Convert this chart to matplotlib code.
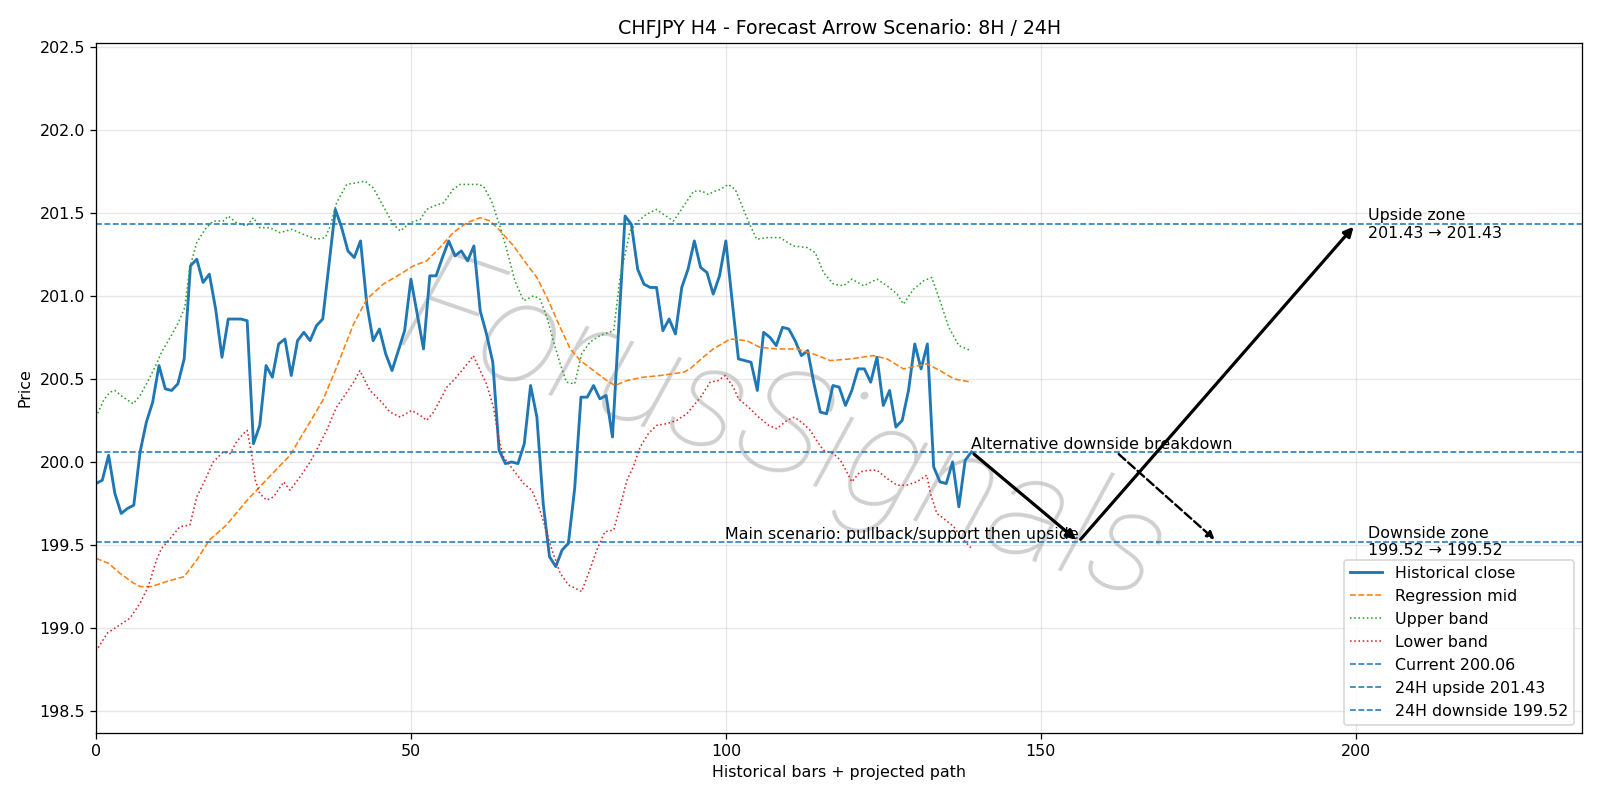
import matplotlib
matplotlib.use("Agg")
import matplotlib.pyplot as plt

# historical close, one value per H4 bar
close = [
    199.87, 199.89, 200.04, 199.81, 199.69, 199.72, 199.74, 200.06, 200.24, 200.36,
    200.58, 200.44, 200.43, 200.47, 200.62, 201.18, 201.22, 201.08, 201.13, 200.92,
    200.63, 200.86, 200.86, 200.86, 200.85, 200.11, 200.22, 200.58, 200.51, 200.71,
    200.74, 200.52, 200.73, 200.78, 200.73, 200.82, 200.86, 201.19, 201.52, 201.41,
    201.27, 201.23, 201.33, 200.95, 200.73, 200.80, 200.65, 200.55, 200.67, 200.79,
    201.10, 200.89, 200.68, 201.12, 201.12, 201.23, 201.33, 201.24, 201.27, 201.21,
    201.30, 200.91, 200.77, 200.60, 200.07, 199.99, 200.00, 199.99, 200.11, 200.46,
    200.27, 199.75, 199.43, 199.37, 199.47, 199.51, 199.84, 200.39, 200.39, 200.46,
    200.38, 200.40, 200.15, 200.82, 201.48, 201.43, 201.16, 201.07, 201.05, 201.05,
    200.79, 200.86, 200.77, 201.05, 201.16, 201.33, 201.17, 201.14, 201.01, 201.12,
    201.33, 200.97, 200.62, 200.61, 200.60, 200.43, 200.78, 200.75, 200.70, 200.81,
    200.80, 200.73, 200.64, 200.67, 200.47, 200.30, 200.29, 200.46, 200.45, 200.34,
    200.43, 200.56, 200.56, 200.48, 200.63, 200.34, 200.43, 200.21, 200.25, 200.43,
    200.71, 200.56, 200.71, 199.97, 199.88, 199.87, 200.00, 199.73, 200.01, 200.06,
]

# regression mid (read at these bar positions)
mid_x = [0, 2, 3.8, 6, 7, 8.8, 11.2, 14, 16, 18, 20.7, 24, 27, 30.8, 33.5, 36, 38.2,
         40.9, 43, 45.6, 48.3, 50.4, 52.5, 54.6, 56.7, 58.9, 61, 62.6, 64.2, 66.3,
         68.4, 70, 71.6, 73.7, 75.3, 76.9, 79, 81.1, 82.4, 84.3, 86.9, 89.6, 93.3,
         94.3, 96.4, 98, 100.7, 103.3, 105.4, 108.1, 111.3, 113.9, 116.6, 119.8,
         123.4, 125.6, 128.2, 131.9, 134, 136.2, 139]
mid_y = [199.42, 199.39, 199.33, 199.27, 199.25, 199.25, 199.28, 199.31, 199.41, 199.53,
         199.62, 199.77, 199.89, 200.04, 200.21, 200.37, 200.57, 200.83, 200.98, 201.07,
         201.13, 201.18, 201.21, 201.29, 201.38, 201.44, 201.47, 201.45, 201.39, 201.30,
         201.19, 201.11, 200.99, 200.81, 200.68, 200.61, 200.55, 200.49, 200.46, 200.49,
         200.51, 200.52, 200.54, 200.56, 200.63, 200.68, 200.74, 200.73, 200.69, 200.68,
         200.68, 200.65, 200.61, 200.62, 200.64, 200.62, 200.56, 200.59, 200.55, 200.50,
         200.48]

upper_x = [0, 1.2, 2.2, 3, 4.3, 5.9, 7, 8.3, 9.6, 10.4, 11.8, 13.1, 14.1, 14.9, 16,
           17.3, 18.6, 20.2, 21, 22.3, 23.9, 25, 26, 27.6, 29.2, 31.1, 32.9, 35, 36.4,
           37.2, 38.2, 39.8, 41.4, 42.7, 44, 45.6, 47.2, 48.3, 49.9, 51.5, 52.5, 53.6,
           55.2, 56.7, 57.8, 59.4, 60.7, 61.5, 62.8, 64.2, 65.2, 66.5, 67.9, 69.5, 70.5,
           71.6, 72.6, 73.7, 74.7, 76, 77.1, 78.4, 80, 82.2, 83.2, 84.8, 86.1, 87.4, 89,
           90.1, 91.7, 93.3, 94.9, 96.2, 97.2, 98.3, 99.1, 100.4, 101.5, 102.8, 103.9,
           104.9, 106.5, 108.6, 110.7, 112.9, 114.2, 115.5, 117.1, 118.7, 120, 121.9,
           124, 125.6, 127.2, 128.2, 129.8, 131.4, 132.7, 134, 135.4, 137, 138.9]
upper_y = [200.27, 200.37, 200.42, 200.43, 200.39, 200.35, 200.40, 200.49, 200.59, 200.66,
           200.75, 200.84, 200.93, 201.17, 201.32, 201.40, 201.45, 201.45, 201.48, 201.44,
           201.42, 201.47, 201.41, 201.41, 201.38, 201.40, 201.37, 201.34, 201.35, 201.42,
           201.56, 201.67, 201.68, 201.69, 201.65, 201.54, 201.43, 201.39, 201.44, 201.46,
           201.52, 201.54, 201.56, 201.64, 201.67, 201.67, 201.67, 201.66, 201.57, 201.41,
           201.28, 201.09, 200.97, 201.00, 200.98, 200.87, 200.73, 200.59, 200.48, 200.47,
           200.65, 200.72, 200.76, 200.79, 201.11, 201.39, 201.45, 201.49, 201.52, 201.49,
           201.45, 201.54, 201.63, 201.63, 201.61, 201.63, 201.64, 201.67, 201.64, 201.52,
           201.42, 201.34, 201.35, 201.35, 201.30, 201.29, 201.26, 201.14, 201.07, 201.06,
           201.10, 201.06, 201.10, 201.06, 201.01, 200.95, 201.04, 201.09, 201.11, 200.97,
           200.81, 200.70, 200.67]

lower_x = [0, 1.8, 4.2, 5.4, 7, 8.3, 9.6, 10.4, 11.8, 13.3, 14.9, 16, 17.3, 18.6, 20.2,
           21.3, 22.3, 23.4, 24, 24.7, 25.3, 26, 27.1, 28.2, 29.8, 30.8, 32.4, 34, 35,
           36.6, 38.2, 39.3, 40.9, 41.9, 43.5, 45.1, 46.7, 48.3, 50.1, 51.5, 52.5, 53.6,
           54.6, 55.7, 57, 58.3, 59.4, 59.9, 61, 62, 63.1, 63.9, 64.7, 66.3, 67.9, 69.2,
           70.3, 71.3, 72.4, 73.7, 75, 76.1, 77.1, 78.2, 79.5, 80.8, 82.2, 83.2, 84.3,
           85.3, 86.4, 87.7, 89, 90.6, 92.2, 93.8, 96, 97.5, 98.8, 99.9, 101.2, 102,
           103.6, 105.2, 106.8, 108.1, 109.7, 110.9, 112.3, 113.4, 114.4, 115.5, 117.1,
           118.2, 119.2, 120, 121.3, 122.6, 124, 125.6, 127.2, 128.7, 130.3, 131.9,
           132.5, 133.5, 134.9, 136.2, 137.5, 139]
lower_y = [198.86, 198.97, 199.03, 199.06, 199.15, 199.25, 199.41, 199.48, 199.54, 199.61,
           199.62, 199.79, 199.89, 200.00, 200.06, 200.05, 200.12, 200.17, 200.19, 200.05,
           199.89, 199.81, 199.77, 199.79, 199.88, 199.83, 199.91, 200.00, 200.07, 200.19,
           200.33, 200.39, 200.48, 200.55, 200.43, 200.37, 200.30, 200.27, 200.31, 200.28,
           200.25, 200.30, 200.37, 200.45, 200.50, 200.56, 200.61, 200.64, 200.55, 200.47,
           200.33, 200.15, 200.03, 199.95, 199.87, 199.83, 199.73, 199.61, 199.47, 199.33,
           199.26, 199.24, 199.22, 199.33, 199.47, 199.58, 199.59, 199.73, 199.89, 199.97,
           200.09, 200.17, 200.22, 200.23, 200.25, 200.29, 200.39, 200.48, 200.49, 200.52,
           200.45, 200.38, 200.33, 200.27, 200.22, 200.20, 200.25, 200.27, 200.23, 200.19,
           200.13, 200.07, 200.05, 200.01, 199.94, 199.88, 199.94, 199.95, 199.95, 199.90,
           199.86, 199.86, 199.88, 199.92, 199.81, 199.69, 199.65, 199.61, 199.54, 199.48]

current = 200.06
up_target = 201.43
down_target = 199.52

# projected path (bar, price)
pullback = (156, down_target)
up_end = (200, up_target)
alt_start = (162, current)
alt_end = (178, down_target)

fig, ax = plt.subplots(figsize=(14, 7), dpi=1600 / 14)

ax.plot(range(len(close)), close, color="C0", lw=1.8, label="Historical close")
ax.plot(mid_x, mid_y, color="C1", ls="--", lw=1.0, label="Regression mid")
ax.plot(upper_x, upper_y, color="C2", ls=":", lw=1.0, label="Upper band")
ax.plot(lower_x, lower_y, color="C3", ls=":", lw=1.0, label="Lower band")
ax.axhline(current, color="C0", ls="--", lw=1, label=f"Current {current:.2f}")
ax.axhline(up_target, color="C0", ls="--", lw=1, label=f"24H upside {up_target:.2f}")
ax.axhline(down_target, color="C0", ls="--", lw=1, label=f"24H downside {down_target:.2f}")

last = len(close) - 1
# main scenario: pullback then upside
ax.annotate("", xy=pullback, xytext=(last, current),
            arrowprops=dict(arrowstyle="-|>", color="black", lw=2, mutation_scale=12))
ax.annotate("", xy=up_end, xytext=pullback,
            arrowprops=dict(arrowstyle="-|>", color="black", lw=2, mutation_scale=12))
# alternative breakdown
ax.annotate("", xy=alt_end, xytext=alt_start,
            arrowprops=dict(arrowstyle="-|>", color="black", lw=1.5, ls="--", mutation_scale=10))

ax.text(last, current, "Alternative downside breakdown", ha="left", va="bottom")
ax.text(pullback[0], down_target, "Main scenario: pullback/support then upside",
        ha="right", va="bottom")
ax.text(up_end[0] + 2, up_target, f"Upside zone\n{up_target:.2f} → {up_target:.2f}",
        ha="left", va="center")
ax.text(up_end[0] + 2, down_target, f"Downside zone\n{down_target:.2f} → {down_target:.2f}",
        ha="left", va="center")

# watermark
ax.text(0.462, 0.43, "ForusSignals", transform=ax.transAxes, fontsize=92,
        family=["Roboto", "DejaVu Sans"], color="#c4c4c4", alpha=0.8,
        rotation=-19, ha="center", va="center",
        style="italic", fontweight="light", zorder=0)

ax.set_xlim(0, 236)
ax.set_ylim(198.37, 202.52)
ax.set_title("CHFJPY H4 - Forecast Arrow Scenario: 8H / 24H")
ax.set_xlabel("Historical bars + projected path")
ax.set_ylabel("Price")
ax.grid(True, alpha=0.3)
ax.legend(loc="lower right")

fig.subplots_adjust(left=0.06, right=0.989, bottom=0.084, top=0.946)
fig.savefig("out.png")
